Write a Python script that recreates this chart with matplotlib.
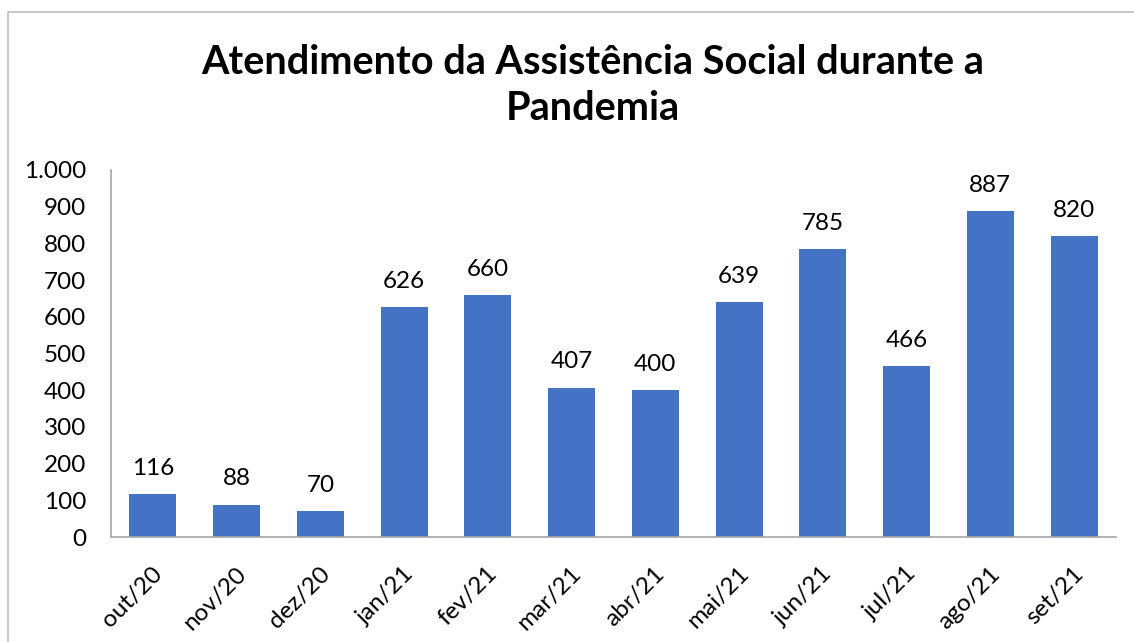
import matplotlib.pyplot as plt
import matplotlib.transforms as mtransforms
from matplotlib.patches import Rectangle

months = ["out/20", "nov/20", "dez/20", "jan/21", "fev/21", "mar/21",
          "abr/21", "mai/21", "jun/21", "jul/21", "ago/21", "set/21"]
atendimentos = [116, 88, 70, 626, 660, 407, 400, 639, 785, 466, 887, 820]
y_ticks = [0, 100, 200, 300, 400, 500, 600, 700, 800, 900, 1000]
y_labels = ["0", "100", "200", "300", "400", "500", "600", "700", "800", "900", "1.000"]

plt.rcParams["font.family"] = ["Lato", "DejaVu Sans"]

fig = plt.figure(figsize=(11.34, 6.42), dpi=100)
ax = fig.add_axes([111 / 1134, 1 - 537 / 642, (1116 - 111) / 1134, (537 - 170) / 642])

# outer chart border (cut off at right and bottom like the screenshot)
fig.patches.append(Rectangle((8 / 1134, -0.1), 1.2, 1 - 12 / 642 + 0.1,
                             transform=fig.transFigure, fill=False,
                             edgecolor="#bfbfbf", linewidth=1.2))

x = range(len(months))
ax.bar(x, atendimentos, width=0.56, color="#4472C4")

for xi, v in zip(x, atendimentos):
    ax.annotate(f"{v}", (xi, v), xytext=(0, 11), textcoords="offset points",
                ha="center", va="bottom", fontsize=17.5, color="#000000")

ax.set_xlim(-0.5, len(months) - 0.5)
ax.set_ylim(0, 1000)
ax.set_yticks(y_ticks)
ax.set_yticklabels(y_labels, fontsize=17.5)
ax.set_xticks(list(x))
ax.set_xticklabels(months, rotation=45, ha="right", va="center",
                   rotation_mode="anchor", fontsize=17.5)
ax.tick_params(axis="y", length=0, pad=18)
ax.tick_params(axis="x", length=0, pad=24)

shift = mtransforms.ScaledTranslation(6 / 100, 0, fig.dpi_scale_trans)
for lbl in ax.get_xticklabels():
    lbl.set_transform(lbl.get_transform() + shift)

for side in ["top", "right"]:
    ax.spines[side].set_visible(False)
for side in ["left", "bottom"]:
    ax.spines[side].set_color("#a6a6a6")
    ax.spines[side].set_linewidth(1.2)

fig.text(0.523, 1 - 85 / 642, "Atendimento da Assistência Social durante a\nPandemia",
         ha="center", va="center", fontsize=28.5, fontweight="bold", linespacing=1.3)

fig.savefig("out.png", dpi=100)
